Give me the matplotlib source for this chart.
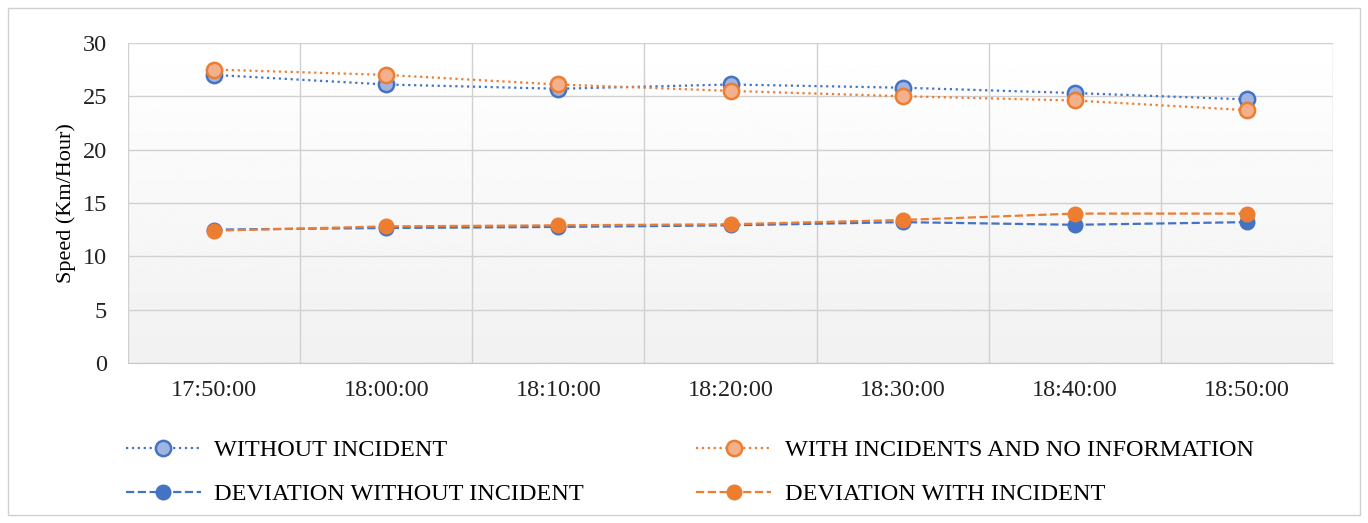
import matplotlib.pyplot as plt
import numpy as np
from matplotlib.patches import Rectangle

# donnees
heures = ["17:50:00", "18:00:00", "18:10:00", "18:20:00", "18:30:00", "18:40:00", "18:50:00"]
sans_incident = [27.0, 26.1, 25.7, 26.1, 25.8, 25.3, 24.7]
avec_incidents = [27.5, 27.0, 26.1, 25.5, 25.0, 24.6, 23.7]
deviation_sans = [12.5, 12.65, 12.75, 12.9, 13.2, 12.95, 13.2]
deviation_avec = [12.4, 12.8, 12.9, 13.0, 13.4, 14.0, 14.0]

bleu = "#4472C4"
orange = "#ED7D31"

plt.rcParams['font.family'] = ['Liberation Serif', 'DejaVu Serif']

fig = plt.figure(figsize=(13.68, 5.23), dpi=100)
ax = fig.add_axes([0.0936, 0.306, 0.8808, 0.612])

x = np.arange(len(heures))

# fond en degrade
grad = np.linspace(1.0, 0.945, 256).reshape(-1, 1)
ax.imshow(grad, cmap="gray", vmin=0, vmax=1, aspect="auto",
          extent=(-0.5, 6.5, 0, 30), origin="upper", zorder=0)

ax.plot(x, sans_incident, ":", color=bleu, lw=1.6, marker="o", ms=11,
        mfc="#9FB4E0", mec=bleu, mew=1.8, label="WITHOUT INCIDENT", zorder=3)
ax.plot(x, deviation_sans, "--", color=bleu, lw=1.6, marker="o", ms=10.5,
        mfc=bleu, mec=bleu, label="DEVIATION WITHOUT INCIDENT", zorder=3)
ax.plot(x, avec_incidents, ":", color=orange, lw=1.6, marker="o", ms=11,
        mfc="#F3B08A", mec=orange, mew=1.8, label="WITH INCIDENTS AND NO INFORMATION", zorder=4)
ax.plot(x, deviation_avec, "--", color=orange, lw=1.6, marker="o", ms=10.5,
        mfc=orange, mec=orange, label="DEVIATION WITH INCIDENT", zorder=4)

ax.set_xlim(-0.5, 6.5)
ax.set_ylim(0, 30)
ax.set_yticks(np.arange(0, 31, 5))
ax.set_xticks(x)
ax.set_xticklabels(heures)
ax.set_xticks(np.arange(-0.5, 7, 1), minor=True)
ax.grid(True, which="major", axis="y", color="#d0d0d0", lw=1)
ax.grid(True, which="minor", axis="x", color="#d0d0d0", lw=1)
ax.set_axisbelow(True)
for s in ["top", "right", "left"]:
    ax.spines[s].set_visible(False)
ax.spines["bottom"].set_color("#c8c8c8")
ax.tick_params(which="both", length=0, labelsize=17.5, colors="#222222")
ax.tick_params(axis="x", pad=12)
ax.tick_params(axis="y", pad=15)
ax.set_ylabel("Speed (Km/Hour)", fontsize=16, labelpad=5)

fig.legend(loc="upper left", bbox_to_anchor=(0.0758, 0.202), ncol=2, frameon=False,
           fontsize=17.5, handlelength=3.1, handletextpad=0.55, columnspacing=4.6,
           labelspacing=0.9)

# cadre exterieur
fig.patches.append(Rectangle((0.006, 0.015), 0.988, 0.97, transform=fig.transFigure,
                             fill=False, edgecolor="#d0d0d0", lw=1))

plt.savefig("out.png", dpi=100)
